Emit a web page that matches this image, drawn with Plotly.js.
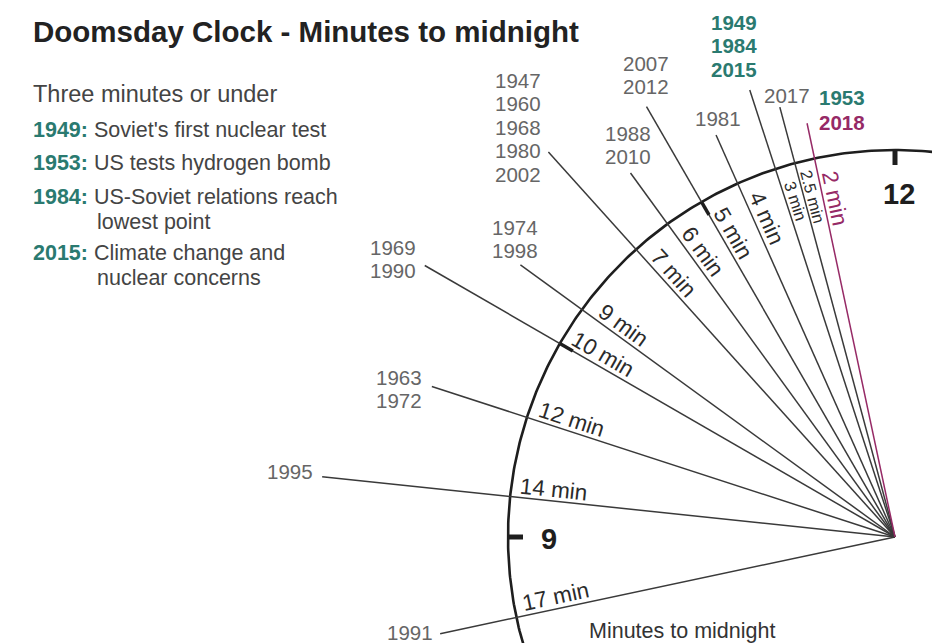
<!DOCTYPE html>
<html>
<head>
<meta charset="utf-8">
<script src="https://cdn.plot.ly/plotly-3.0.1.min.js"></script>
<style>html,body{margin:0;padding:0;background:#fff;}#chart{width:932px;height:643px;}</style>
</head>
<body>
<div id="chart"></div>
<script>
// ---------------- DATA ----------------
const minutes = [17, 14, 12, 10, 9, 7, 6, 5, 4, 3, 2.5, 2];
const minuteLabels = ["17 min", "14 min", "12 min", "10 min", "9 min", "7 min", "6 min", "5 min", "4 min", "3 min", "2.5 min", "2 min"];
const yearGroups = [
  ["1991"], ["1995"], ["1963", "1972"], ["1969", "1990"], ["1974", "1998"],
  ["1947", "1960", "1968", "1980", "2002"], ["1988", "2010"], ["2007", "2012"],
  ["1981"], ["1949", "1984", "2015"], ["2017"], ["1953", "2018"]
];
const legendYears = ["1949", "1953", "1984", "2015"];
const legendTexts = [
  ["Soviet's first nuclear test"],
  ["US tests hydrogen bomb"],
  ["US-Soviet relations reach", "lowest point"],
  ["Climate change and", "nuclear concerns"]
];
const latestYear = "2018";
const hourMarks = [0, 15];        // minutes before midnight: 12 and 9 o'clock
const hourMarkLabels = ["12", "9"];
const minorMarks = [5, 10];       // 11 and 10 o'clock

// ---------------- LAYOUT / STYLE ----------------
const W = 932, H = 643;
const CX = 895, CY = 537, R = 387;
const FONT = "Liberation Sans, Arial, Helvetica, sans-serif";
const TEAL = "#2a7a70", MAGENTA = "#962a66", LINE = "#3a3a3a", GREY = "#666666", DARK = "#2b2b2b";
const lineEnd = [465, 576, 487, 543, 463, 518, 450, 497, 440, 470, 445, 423];
const yearPos = [[385, 632], [265, 471], [374, 377], [368, 247], [490, 227], [493, 80],
                 [603, 133], [621, 63], [693, 118], [709, 22], [762, 95], [817, 97]];
const yearStep = 23.5;
const hourLabelShift = [[4, -2], [-5, 2]];

function pt(m, r) {
  const t = m * 6 * Math.PI / 180;
  return [CX - r * Math.sin(t), CY - r * Math.cos(t)];
}

const traces = [];
const annotations = [];

// clock arc
const ax = [], ay = [];
for (let d = 0; d <= 360; d += 0.5) {
  const p = pt(d / 6, R); ax.push(p[0]); ay.push(p[1]);
}
traces.push({x: ax, y: ay, mode: "lines", line: {color: "#1e1e1e", width: 2.6}, hoverinfo: "skip"});

// radial lines
minutes.forEach((m, i) => {
  const a = pt(m, 0), b = pt(m, lineEnd[i]);
  const col = yearGroups[i].includes(latestYear) ? MAGENTA : LINE;
  traces.push({x: [a[0], b[0]], y: [a[1], b[1]], mode: "lines", line: {color: col, width: 1.5}, hoverinfo: "skip"});
});

// hour ticks
hourMarks.forEach((m, i) => {
  const a = pt(m, R + 1), b = pt(m, R - 15);
  traces.push({x: [a[0], b[0]], y: [a[1], b[1]], mode: "lines", line: {color: "#1e1e1e", width: 5}, hoverinfo: "skip"});
  const c = pt(m, R - 46);
  annotations.push({x: c[0] + hourLabelShift[i][0], y: c[1] + hourLabelShift[i][1], text: hourMarkLabels[i], showarrow: false,
    xanchor: "center", yanchor: "middle", font: {family: FONT, size: 29, color: "#1e1e1e", weight: "bold"}});
});
minorMarks.forEach(m => {
  const a = pt(m, R), b = pt(m, R - 15);
  traces.push({x: [a[0], b[0]], y: [a[1], b[1]], mode: "lines", line: {color: "#1e1e1e", width: 3.5}, hoverinfo: "skip"});
});

// minute labels along lines
minutes.forEach((m, i) => {
  const small = (m === 3 || m === 2.5);
  const rc = small ? 350 : 344;
  const off = small ? 9 : 12;
  const t = m * 6 * Math.PI / 180;
  const p = pt(m, rc);
  const x = p[0] + off * Math.cos(t), y = p[1] - off * Math.sin(t);
  const col = yearGroups[i].includes(latestYear) ? MAGENTA : DARK;
  annotations.push({x: x, y: y, text: minuteLabels[i], showarrow: false, textangle: 90 - 6 * m,
    xanchor: "center", yanchor: "middle", font: {family: FONT, size: small ? 16.5 : 22.5, color: col}});
});

// year labels
yearGroups.forEach((g, i) => {
  g.forEach((yr, j) => {
    let col = GREY, bold = false;
    if (legendYears.includes(yr)) { col = TEAL; bold = true; }
    if (yr === latestYear) { col = MAGENTA; bold = true; }
    annotations.push({x: yearPos[i][0], y: yearPos[i][1] + j * (yr === latestYear ? 25 : yearStep), text: yr, showarrow: false,
      xanchor: "left", yanchor: "middle", font: {family: FONT, size: 20.5, color: col, weight: bold ? "bold" : "normal"}});
  });
});

// title
annotations.push({x: 31, y: 31, text: "<b>Doomsday Clock - Minutes to midnight</b>", showarrow: false,
  xanchor: "left", yanchor: "middle", font: {family: FONT, size: 29.5, color: "#222222"}});
// legend
annotations.push({x: 31, y: 94, text: "Three minutes or under", showarrow: false,
  xanchor: "left", yanchor: "middle", font: {family: FONT, size: 23.5, color: "#444444"}});
const legY = [130, 163, 197, 253];
const legStep = 24.5;
legendYears.forEach((yr, i) => {
  annotations.push({x: 31, y: legY[i], text: "<b><span style='color:" + TEAL + "'>" + yr + ":</span></b> " + legendTexts[i][0],
    showarrow: false, xanchor: "left", yanchor: "middle", font: {family: FONT, size: 21.5, color: "#444444"}});
  for (let k = 1; k < legendTexts[i].length; k++) {
    annotations.push({x: 95, y: legY[i] + legStep * k, text: legendTexts[i][k], showarrow: false,
      xanchor: "left", yanchor: "middle", font: {family: FONT, size: 21.5, color: "#444444"}});
  }
});
// axis caption
annotations.push({x: 587, y: 631, text: "Minutes to midnight", showarrow: false,
  xanchor: "left", yanchor: "middle", font: {family: FONT, size: 21.5, color: "#333333"}});

const layout = {
  width: W, height: H, margin: {l: 0, r: 0, t: 0, b: 0},
  paper_bgcolor: "#ffffff", plot_bgcolor: "#ffffff", showlegend: false,
  xaxis: {range: [0, W], visible: false, fixedrange: true},
  yaxis: {range: [H, 0], visible: false, fixedrange: true},
  annotations: annotations
};
Plotly.newPlot("chart", traces, layout, {staticPlot: true, displayModeBar: false});
</script>
</body>
</html>
